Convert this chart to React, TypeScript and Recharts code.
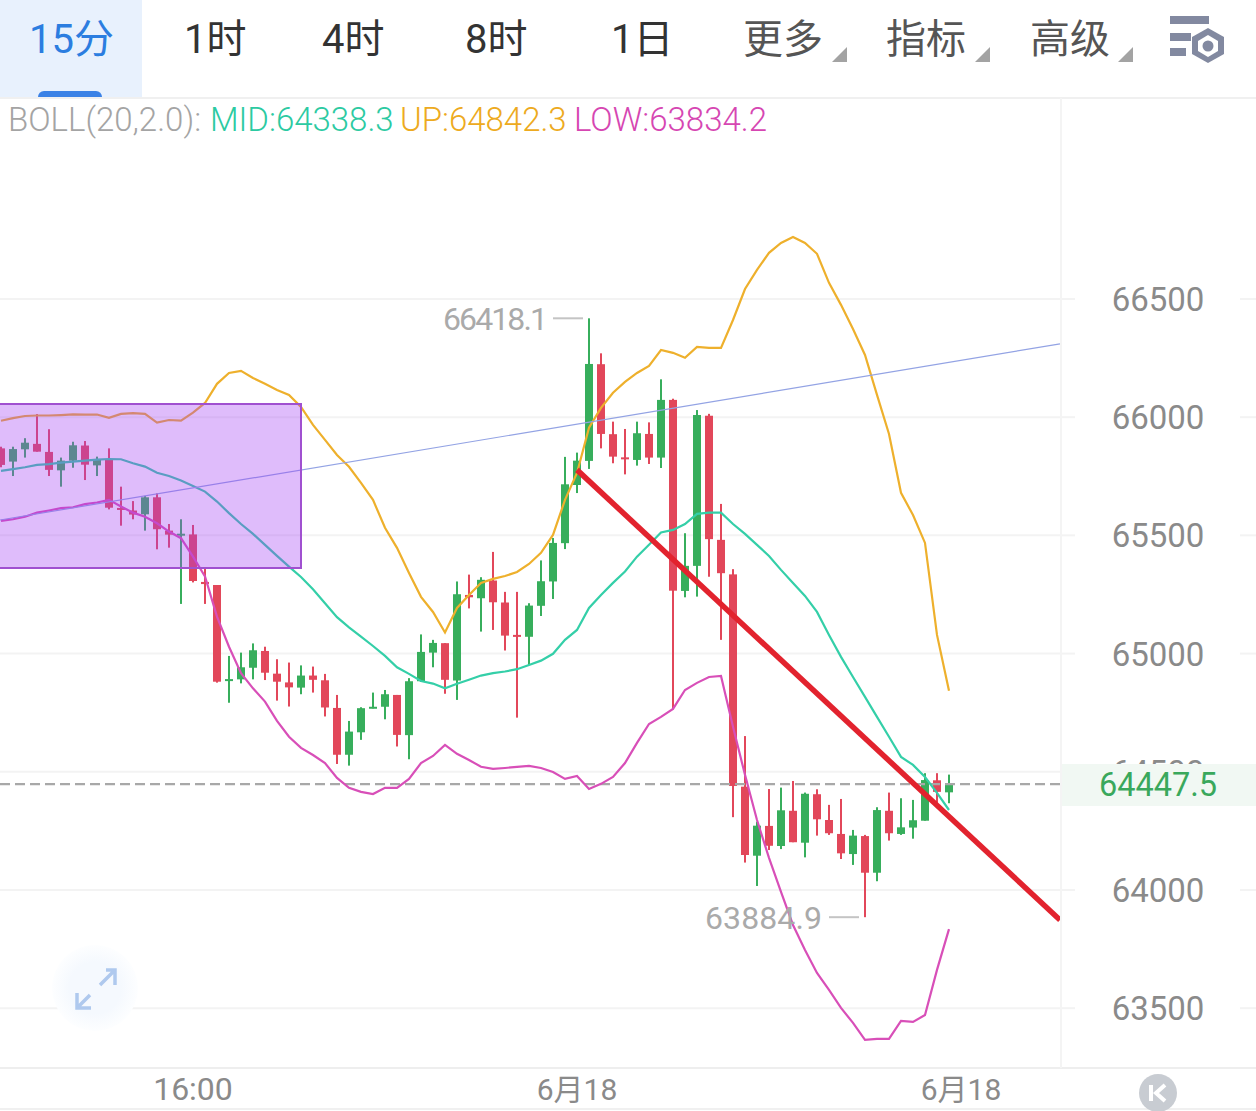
import React from 'react';
import { ComposedChart, Bar, Line, XAxis, YAxis, CartesianGrid, ReferenceArea, ReferenceLine, ReferenceDot } from 'recharts';

const opens = [65868, 65812, 65864, 65887, 65853, 65775, 65816, 65880, 65796, 65819, 65616, 65605, 65589, 65661, 65520, 65502, 65504, 65303, 65290, 64887, 64891, 64940, 65011, 64915, 64878, 64856, 64907, 64887, 64770, 64572, 64667, 64768, 64775, 64825, 64655, 64883, 65004, 65044, 64886, 65248, 65234, 65309, 65216, 65079, 65071, 65202, 65305, 65467, 65713, 65815, 66224, 65928, 65830, 65819, 65929, 65829, 66073, 65265, 65371, 66006, 65481, 65335, 64437, 64145, 64271, 64186, 64335, 64200, 64405, 64296, 64237, 64152, 64228, 64073, 64335, 64237, 64264, 64293, 64464, 64413];
const closes = [65798, 65865, 65892, 65854, 65777, 65816, 65881, 65799, 65822, 65617, 65610, 65588, 65661, 65526, 65503, 65507, 65307, 65294, 64881, 64892, 64942, 65014, 64919, 64881, 64857, 64907, 64889, 64772, 64572, 64670, 64769, 64775, 64828, 64656, 64883, 65007, 65045, 64889, 65251, 65238, 65312, 65217, 65076, 65072, 65203, 65306, 65468, 65716, 65816, 66225, 65929, 65833, 65822, 65932, 65829, 66073, 65266, 65371, 66009, 65484, 65340, 64440, 64148, 64272, 64187, 64337, 64202, 64407, 64299, 64240, 64155, 64230, 64073, 64338, 64240, 64265, 64295, 64465, 64415, 64447.5];
const highs = [65875, 65875, 65911, 66013, 65949, 65829, 65896, 65899, 65833, 65868, 65706, 65645, 65667, 65678, 65548, 65568, 65544, 65365, 65290, 64990, 65004, 65043, 65029, 64976, 64962, 64950, 64945, 64914, 64825, 64715, 64773, 64835, 64846, 64825, 64896, 65081, 65058, 65044, 65305, 65334, 65323, 65430, 65261, 65261, 65213, 65394, 65489, 65832, 65850, 66418.1, 66270, 65981, 65950, 65981, 65978, 66160, 66078, 65509, 66030, 66014, 65633, 65357, 64651, 64289, 64427, 64433, 64461, 64412, 64426, 64360, 64385, 64254, 64233, 64350, 64412, 64388, 64381, 64494, 64494, 64488];
const lows = [65788, 65751, 65829, 65854, 65751, 65706, 65786, 65734, 65751, 65610, 65541, 65568, 65520, 65441, 65448, 65210, 65301, 65210, 64877, 64792, 64874, 64891, 64888, 64801, 64776, 64828, 64835, 64734, 64533, 64526, 64635, 64768, 64722, 64607, 64553, 64880, 64942, 64830, 64804, 65191, 65093, 65100, 65013, 64729, 64952, 65159, 65231, 65442, 65679, 65781, 65868, 65805, 65758, 65795, 65802, 65785, 64764, 65238, 65241, 65325, 65058, 64308, 64116, 64017, 64169, 64173, 64202, 64138, 64230, 64233, 64131, 64106, 63884.9, 64037, 64209, 64233, 64217, 64293, 64369, 64367];
const upper = [65985, 65996, 66005, 66007, 66007, 66009, 66012, 66011, 66011, 65997, 66014, 66017, 66014, 65977, 65988, 65985, 66019, 66060, 66141, 66187, 66196, 66166, 66141, 66115, 66094, 66043, 65967, 65904, 65840, 65790, 65722, 65650, 65532, 65447, 65341, 65240, 65176, 65089, 65193, 65248, 65299, 65316, 65328, 65345, 65379, 65426, 65502, 65650, 65764, 65955, 66039, 66103, 66149, 66187, 66217, 66284, 66272, 66251, 66297, 66293, 66293, 66411, 66542, 66623, 66695, 66737, 66762, 66737, 66691, 66568, 66475, 66373, 66263, 66094, 65929, 65680, 65586, 65468, 65079, 64842.3];
const middle = [65773, 65780, 65788, 65798, 65801, 65808, 65812, 65816, 65820, 65823, 65822, 65805, 65791, 65765, 65751, 65732, 65709, 65685, 65643, 65594, 65548, 65506, 65460, 65413, 65368, 65324, 65272, 65213, 65154, 65111, 65072, 65032, 64990, 64942, 64914, 64884, 64873, 64853, 64872, 64889, 64907, 64917, 64924, 64934, 64952, 64970, 64999, 65058, 65100, 65193, 65248, 65299, 65347, 65410, 65460, 65512, 65523, 65548, 65591, 65596, 65596, 65548, 65506, 65460, 65413, 65354, 65299, 65244, 65176, 65079, 64986, 64901, 64817, 64732, 64648, 64563, 64529, 64478, 64411, 64338.3];
const lower = [65561, 65568, 65579, 65596, 65605, 65615, 65619, 65632, 65639, 65650, 65622, 65596, 65579, 65551, 65516, 65488, 65410, 65326, 65156, 65029, 64917, 64853, 64797, 64715, 64648, 64601, 64571, 64537, 64474, 64432, 64415, 64406, 64432, 64432, 64470, 64537, 64567, 64614, 64576, 64550, 64521, 64512, 64516, 64521, 64525, 64516, 64499, 64470, 64482, 64427, 64449, 64478, 64537, 64622, 64702, 64732, 64766, 64846, 64876, 64901, 64905, 64690, 64487, 64296, 64136, 63992, 63852, 63746, 63649, 63577, 63501, 63438, 63366, 63370, 63370, 63446, 63442, 63471, 63662, 63834.2];

const xDomain = [-0.083, 88.25];
const yDomain = [63247, 67350];
const priceTicks = [63500, 64000, 64500, 65000, 65500, 66000, 66500];
const timeTicks = [16, 48, 80];
const timeLabels: Record<number, string> = { 16: '16:00', 48: '6月18', 80: '6月18' };
const lastPrice = 64447.5;
const periods = ['15分', '1时', '4时', '8时', '1日'];
const periodLeft = [29, 184, 322, 465, 611];
const menus = ['更多', '指标', '高级'];
const menuLeft = [743, 886, 1030];

const RED = '#e2475a';
const GREEN = '#37ae5c';
const FONT = "Roboto, 'Noto Sans CJK SC', sans-serif";

const rows = opens.map((open, i) => ({
    i,
    open,
    close: closes[i],
    high: highs[i],
    low: lows[i],
    range: [lows[i], highs[i]],
    upper: upper[i],
    middle: middle[i],
    lower: lower[i]
}));

// body is worked out from the wick box the Bar already scaled for us
const Candle = (props: any) => {
    const { x, y, width, height, payload } = props;
    const perUnit = height / (payload.high - payload.low);
    const top = y + (payload.high - Math.max(payload.open, payload.close)) * perUnit;
    const bodyH = Math.max(Math.abs(payload.open - payload.close) * perUnit, 2);
    const color = payload.close >= payload.open ? GREEN : RED;
    return (
        <g>
            <rect x={x + width / 2 - 1} y={y} width={2} height={height} fill={color} />
            <rect x={x} y={top} width={width} height={bodyH} fill={color} />
        </g>
    );
};

const PriceTick = (props: any) => {
    const { y, payload } = props;
    return (
        <g>
            <line x1={1060} x2={1075} y1={y} y2={y} stroke="#f3f3f3" strokeWidth={2} />
            <line x1={1240} x2={1256} y1={y} y2={y} stroke="#f3f3f3" strokeWidth={2} />
            <text x={1158} y={y + 12} textAnchor="middle" fontSize={33} fill="#8a8a8a" fontFamily={FONT}>
                {payload.value}
            </text>
        </g>
    );
};

const TimeTick = (props: any) => {
    const { x, payload } = props;
    const isTime = payload.value === 16;
    return (
        <text x={x} y={1100} textAnchor="middle" fontSize={isTime ? 32 : 30} fill="#8a8a8a" fontFamily={FONT}>
            {timeLabels[payload.value]}
        </text>
    );
};

const ExtremeLabel = (props: any) => {
    const { cx, cy, text, gap, span } = props;
    return (
        <g>
            <line x1={cx - 36} x2={cx - 6} y1={cy} y2={cy} stroke="#c4c4c4" strokeWidth={2} />
            <text x={cx - gap - span} y={cy + 12} textLength={span} fontSize={32} fill="#aaaaaa" fontFamily={FONT}>
                {text}
            </text>
        </g>
    );
};

const Triangle = ({ left }: { left: number }) => (
    <svg width={16} height={16} style={{ position: 'absolute', left, top: 47 }}>
        <path d="M15 0 L15 15 L0 15 Z" fill="#a3a3a3" />
    </svg>
);

export default function App() {
    return (
        <div style={{ position: 'absolute', left: 0, top: 0, width: 1256, height: 1111, background: '#fff', overflow: 'hidden', fontFamily: FONT }}>
            <ComposedChart
                width={1256}
                height={1111}
                data={rows}
                margin={{ top: 98, right: 0, bottom: 0, left: 0 }}
                style={{ position: 'absolute', left: 0, top: 0 }}
            >
                <CartesianGrid horizontal vertical={false} stroke="#f3f3f3" strokeWidth={2} />
                <XAxis
                    type="number"
                    dataKey="i"
                    domain={xDomain}
                    ticks={timeTicks}
                    interval={0}
                    allowDataOverflow
                    height={43}
                    axisLine={false}
                    tickLine={false}
                    tick={<TimeTick />}
                />
                <YAxis
                    orientation="right"
                    type="number"
                    domain={yDomain}
                    ticks={priceTicks}
                    interval={0}
                    allowDataOverflow
                    width={196}
                    axisLine={false}
                    tickLine={false}
                    tick={<PriceTick />}
                />
                <ReferenceLine y={lastPrice} stroke="#a8a8a8" strokeWidth={2.2} strokeDasharray="10 5" />
                <Bar dataKey="range" barSize={8} shape={<Candle />} isAnimationActive={false} />
                <Line dataKey="upper" type="linear" stroke="#eeb02c" strokeWidth={2.2} dot={false} isAnimationActive={false} />
                <Line dataKey="middle" type="linear" stroke="#34cfa8" strokeWidth={2.2} dot={false} isAnimationActive={false} />
                <Line dataKey="lower" type="linear" stroke="#d84fb8" strokeWidth={2.2} dot={false} isAnimationActive={false} />
                <ReferenceLine
                    segment={[{ x: -0.083, y: 65565 }, { x: 88.25, y: 66310 }]}
                    stroke="#93a3e4"
                    strokeWidth={1.2}
                />
                <ReferenceArea
                    x1={-1}
                    x2={25}
                    y1={65362}
                    y2={66056}
                    ifOverflow="visible"
                    fill="#a440f4"
                    fillOpacity={0.35}
                    stroke="#a050d0"
                    strokeWidth={2}
                    zIndex={900}
                />
                <ReferenceLine
                    segment={[{ x: 48, y: 65777 }, { x: 88.25, y: 63873 }]}
                    stroke="#e2232e"
                    strokeWidth={5.5}
                    zIndex={950}
                />
                <ReferenceDot x={49} y={66418.1} r={0} shape={(p: any) => <ExtremeLabel {...p} text="66418.1" gap={41} span={105} />} />
                <ReferenceDot x={72} y={63884.9} r={0} shape={(p: any) => <ExtremeLabel {...p} text="63884.9" gap={43} span={117} />} />
            </ComposedChart>

            {/* frame lines */}
            <div style={{ position: 'absolute', left: 0, top: 97, width: 1256, height: 2, background: '#f0f0f0' }} />
            <div style={{ position: 'absolute', left: 0, top: 1067, width: 1256, height: 2, background: '#eeeeee' }} />
            <div style={{ position: 'absolute', left: 0, top: 1108, width: 1256, height: 2, background: '#f0f0f0' }} />
            <div style={{ position: 'absolute', left: 1060, top: 98, width: 2, height: 970, background: '#f4f4f4' }} />

            {/* period tabs */}
            <div style={{ position: 'absolute', left: 0, top: 0, width: 142, height: 97, background: '#e8f1fd' }} />
            <div style={{ position: 'absolute', left: 38, top: 91, width: 64, height: 6, background: '#3b82e6', borderRadius: '6px 6px 0 0' }} />
            {periods.map((p, i) => (
                <span key={p} style={{ position: 'absolute', left: periodLeft[i], top: 12, fontSize: 40, lineHeight: '56px', fontWeight: 400, color: i === 0 ? '#2b7de0' : '#333333' }}>
                    {p}
                </span>
            ))}
            {menus.map((m, i) => (
                <span key={m} style={{ position: 'absolute', left: menuLeft[i], top: 12, fontSize: 40, lineHeight: '56px', fontWeight: 400, color: '#555555' }}>
                    {m}
                </span>
            ))}
            <Triangle left={832} />
            <Triangle left={975} />
            <Triangle left={1118} />
            <svg width={60} height={52} style={{ position: 'absolute', left: 1168, top: 13 }}>
                <rect x={2} y={3} width={39} height={8} fill="#8289a0" />
                <rect x={2} y={20} width={21} height={8} fill="#8289a0" />
                <rect x={2} y={35} width={16} height={8} fill="#8289a0" />
                <path d="M40 15 L56 24 L56 41 L40 50 L24 41 L24 24 Z" fill="#8289a0" />
                <path d="M40 22 L50 28 L50 38 L40 44 L30 38 L30 28 Z" fill="#ffffff" />
                <circle cx={40} cy={33} r={5.5} fill="#8289a0" />
            </svg>

            {/* indicator legend */}
            <div style={{ position: 'absolute', left: 8, top: 98, fontSize: 33, lineHeight: '44px', fontWeight: 300, whiteSpace: 'nowrap' }}>
                <span style={{ position: 'absolute', left: 0, color: '#a4a4a4' }}>BOLL(20,2.0):</span>
                <span style={{ position: 'absolute', left: 202, color: '#2ccaa2' }}>MID:64338.3</span>
                <span style={{ position: 'absolute', left: 392, color: '#edaa20' }}>UP:64842.3</span>
                <span style={{ position: 'absolute', left: 566, color: '#d646b2' }}>LOW:63834.2</span>
            </div>

            {/* last price tag */}
            <div style={{ position: 'absolute', left: 1062, top: 764, width: 194, height: 42, background: '#f1f8f3', color: '#3aa85c', fontSize: 32.5, lineHeight: '42px', textAlign: 'center', boxSizing: 'border-box', paddingRight: 2 }}>
                64447.5
            </div>

            {/* expand button */}
            <svg width={90} height={90} style={{ position: 'absolute', left: 50, top: 943 }}>
                <defs>
                    <radialGradient id="expandGlow">
                        <stop offset="0.6" stopColor="#f5f9fe" />
                        <stop offset="1" stopColor="#fdfeff" />
                    </radialGradient>
                </defs>
                <circle cx={45} cy={45} r={43} fill="url(#expandGlow)" />
                <path d="M50 42 L65 27 M56 27 L65 27 L65 42 M27 65 L40 52 M27 50 L27 65 L41 65" fill="none" stroke="#afc9ee" strokeWidth={3.5} />
            </svg>

            {/* back to latest */}
            <svg width={40} height={40} style={{ position: 'absolute', left: 1138, top: 1074 }}>
                <circle cx={20} cy={19} r={19} fill="#c8ccd2" />
                <path d="M13 11 L13 27 M27 11 L18 19 L27 27" fill="none" stroke="#ffffff" strokeWidth={4} />
            </svg>
        </div>
    );
}
